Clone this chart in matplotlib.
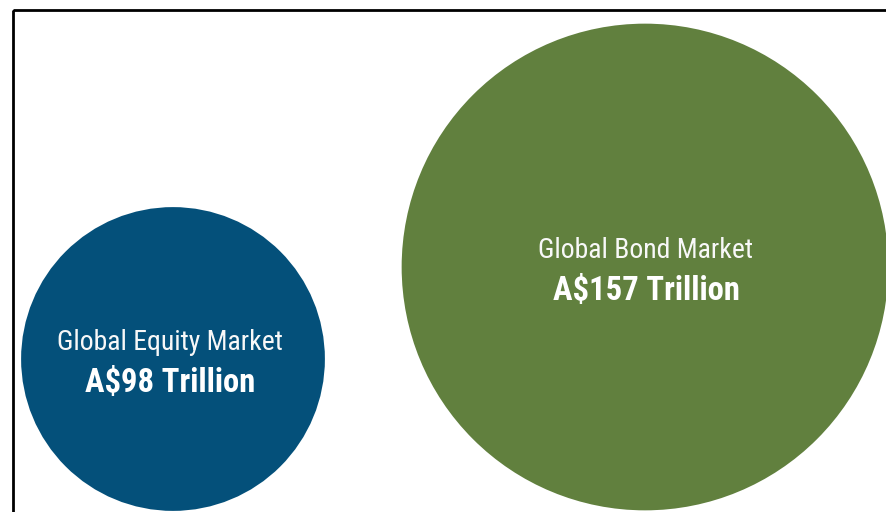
import matplotlib
matplotlib.use("Agg")
import matplotlib.pyplot as plt
from matplotlib.patches import Circle, Rectangle
from matplotlib import font_manager

# market sizes, A$ trillion
markets = ["Global Equity Market", "Global Bond Market"]
values = [98, 157]
value_labels = ["A$98 Trillion", "A$157 Trillion"]
colors = ["#04507A", "#61803E"]
centers = [(173, 359), (645, 267)]
label_dx = [-3, 1]

# radius drawn proportional to the value
px_per_trillion = 1.55

installed = {f.name for f in font_manager.fontManager.ttflist}
narrow = "Roboto Condensed" if "Roboto Condensed" in installed else "Roboto"

fig = plt.figure(figsize=(8.87, 5.12), dpi=100)
ax = fig.add_axes([0, 0, 1, 1])
ax.set_xlim(0, 887)
ax.set_ylim(512, 0)
ax.set_aspect("equal")
ax.axis("off")

# outer frame, runs past the right and bottom edges
ax.add_patch(Rectangle((13, 10), 1000, 1000, fill=False, edgecolor="black", lw=2, zorder=1))

for name, val, lab, col, (cx, cy), dx in zip(markets, values, value_labels, colors, centers, label_dx):
    r = val * px_per_trillion
    ax.add_patch(Circle((cx, cy), r, facecolor=col, edgecolor="none", zorder=2))
    ax.text(cx + dx, cy - 16, name, color="#F8F8F8", fontsize=20, fontweight="normal",
            family=[narrow, "DejaVu Sans"], ha="center", va="center", zorder=3)
    ax.text(cx + dx, cy + 24, lab, color="white", fontsize=23.5, fontweight="bold",
            family=[narrow, "DejaVu Sans"], ha="center", va="center", zorder=3)

fig.savefig("out.png", dpi=100)
